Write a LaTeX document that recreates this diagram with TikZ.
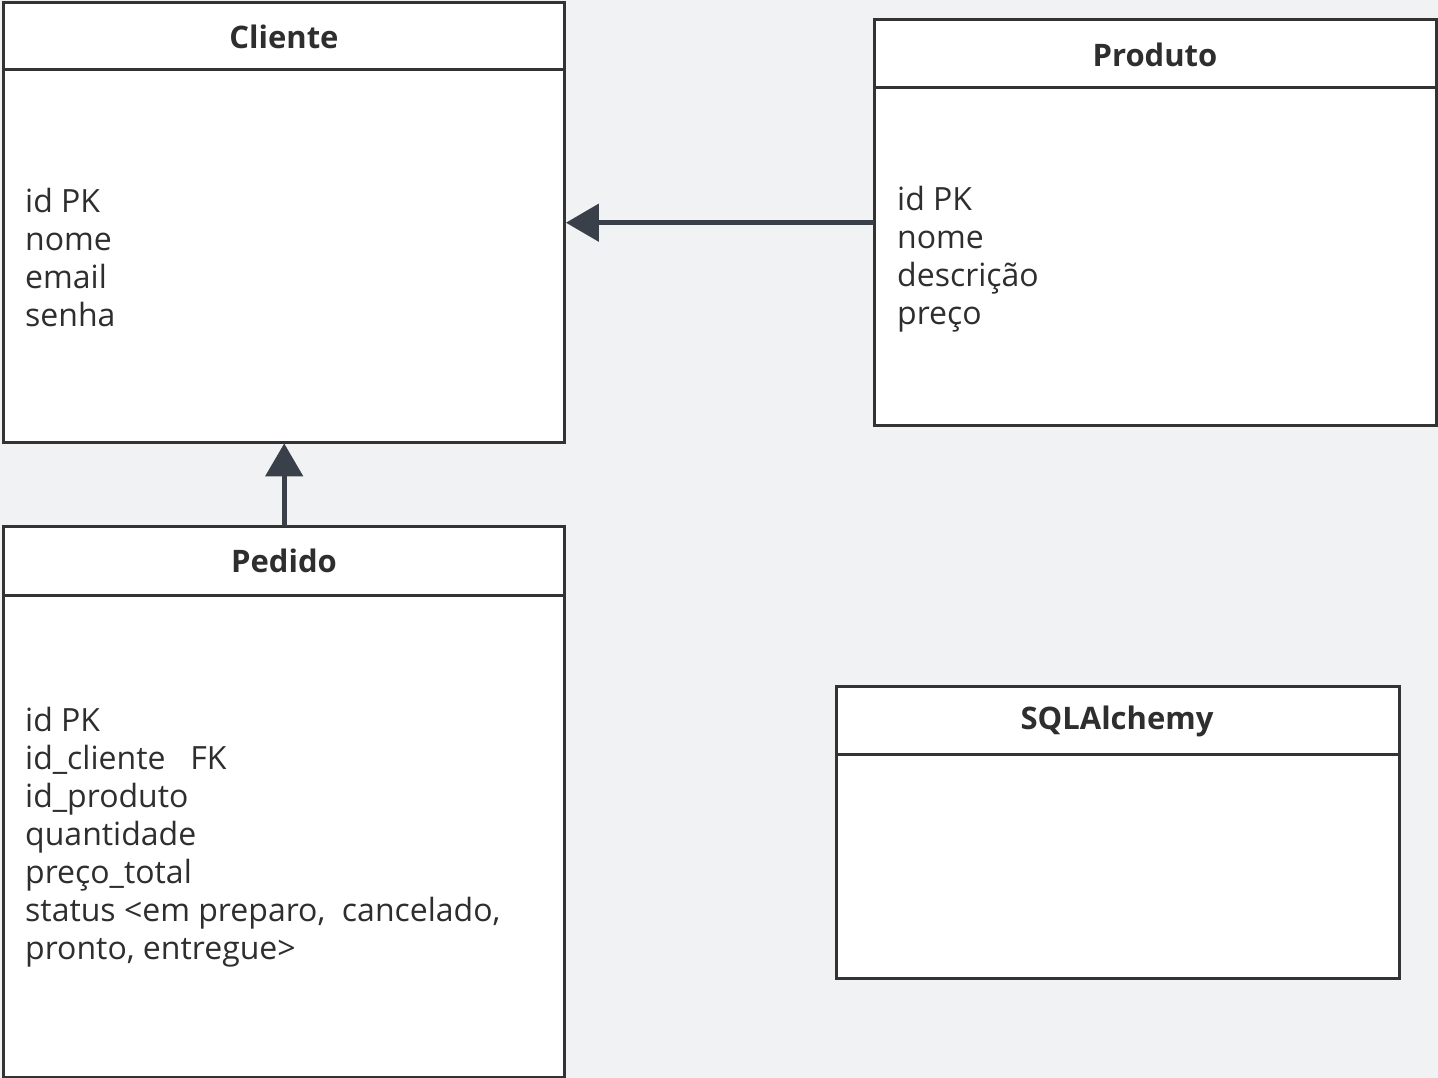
\documentclass[tikz,border=0pt]{standalone}
\usepackage{fontspec}
\setmainfont{Open Sans}
\usetikzlibrary{arrows.meta}
\definecolor{bgc}{HTML}{F1F2F4}
\definecolor{bordc}{HTML}{333333}
\definecolor{txtc}{HTML}{2E2E2E}
\definecolor{arrc}{HTML}{3A4049}
\tikzset{
  x=1pt, y=-1pt,
  entity/.style={draw=bordc, line width=3pt, fill=white},
  sepline/.style={draw=bordc, line width=3pt},
  title/.style={font=\fontsize{31}{34}\selectfont\bfseries, text=txtc, inner sep=0pt},
  attrs/.style={font=\fontsize{32}{38}\selectfont, text=txtc, align=left, anchor=west, inner sep=0pt},
  rel/.style={draw=arrc, line width=5pt, -{Triangle[length=33pt,width=37pt]}, shorten >=1pt},
}
\begin{document}
\begin{tikzpicture}
\fill[bgc] (0,0) rectangle (1438,1078);
\useasboundingbox (0,0) rectangle (1438,1078);
% Cliente
\draw[entity] (3.5,3) rectangle (564.5,442);
\node[draw=none, minimum width=561pt, minimum height=439pt, anchor=north west] (cliente) at (3.5,3) {};
\draw[sepline] (3.5,70) -- (564.5,70);
\node[title] (clienteT) at (284,37) {Cliente};
\node[attrs] (clienteA) at (25,257) {id PK\\nome\\email\\senha};
% Produto
\draw[entity] (874,20) rectangle (1436,425);
\node[draw=none, minimum width=562pt, minimum height=405pt, anchor=north west] (produto) at (874,20) {};
\draw[sepline] (874,88) -- (1436,88);
\node[title] (produtoT) at (1155,55) {Produto};
\node[attrs] (produtoA) at (897,259) {id PK\\nome\\descrição\\preço};
% Pedido
\draw[entity] (3.5,526) rectangle (564.5,1077);
\node[draw=none, minimum width=561pt, minimum height=551pt, anchor=north west] (pedido) at (3.5,526) {};
\draw[sepline] (3.5,595) -- (564.5,595);
\node[title] (pedidoT) at (284,561) {Pedido};
\node[attrs] (pedidoA) at (25,837) {id PK\\id\_cliente\ \ \ FK\\id\_produto\\quantidade\\preço\_total\\status <em preparo,\ \ cancelado,\\pronto, entregue>};
% SQLAlchemy
\draw[entity] (836,686) rectangle (1399,978);
\node[draw=none, minimum width=563pt, minimum height=292pt, anchor=north west] (sqla) at (836,686) {};
\draw[sepline] (836,754) -- (1399,754);
\node[title] (sqlaT) at (1117,721) {SQLAlchemy};
% relations
\draw[rel] (produto.west) -- (produto.west -| cliente.east);
\draw[rel] (pedido.north) -- (cliente.south);
\end{tikzpicture}
\end{document}
